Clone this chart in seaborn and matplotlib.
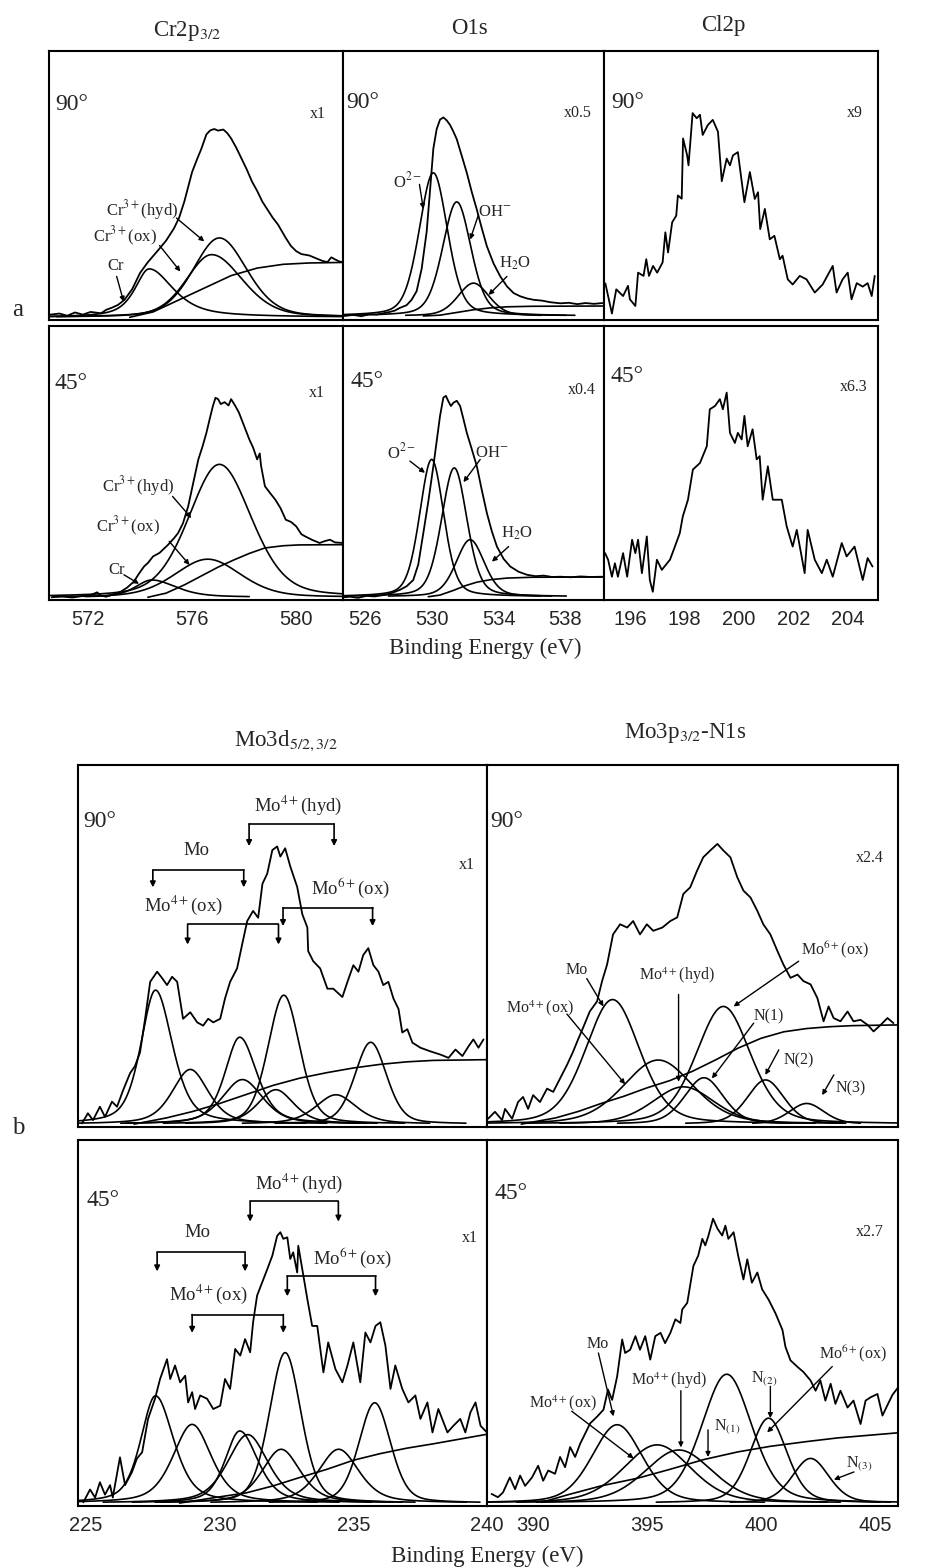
import numpy as np
import matplotlib
matplotlib.use("Agg")
import matplotlib.pyplot as plt
import seaborn as sns

sns.set_theme(style="white")
plt.rcParams['font.family'] = ['Liberation Serif', 'DejaVu Serif']
plt.rcParams['mathtext.fontset'] = 'stix'

# ------------------------------------------------------------------ DATA
# measured spectra: (binding energy eV, intensity in % of panel height)
cr90_meas = [(570.55,2.0),(570.9,2.4),(571.2,1.6),(571.5,2.8),(571.8,2.0),(572.1,3.0),(572.5,2.5),(572.7,3.8),
             (572.9,4.5),(573.15,5.6),(573.4,7.5),(573.7,11.5),(574.0,17.5),(574.3,21.5),(574.7,26),(575.0,29.5),
             (575.3,34),(575.5,38),(575.7,44),(576.0,55),(576.2,60),(576.35,63.5),(576.55,69),(576.7,70.5),
             (576.85,71),(577.0,70.4),(577.2,70.8),(577.35,69.5),(577.5,67.5),(577.7,64),(577.9,60),(578.1,56),
             (578.3,51.5),(578.5,48),(578.7,44),(578.9,41),(579.1,38),(579.3,35.5),(579.6,30.5),(579.8,27.5),
             (580.0,25.6),(580.2,24.5),(580.5,24),(580.75,23),(581.0,22),(581.2,21.5),(581.35,23.3),(581.5,22.5),
             (581.65,21.8),(581.8,21.4)]
cr45_meas = [(570.6,1.0),(571.0,1.3),(571.4,0.9),(571.8,1.5),(572.1,1.8),(572.35,2.8),(572.5,1.6),(572.7,1.2),
             (573.0,2.2),(573.25,3.0),(573.5,4.5),(573.76,6.7),(573.95,9.5),(574.15,12.2),(574.3,13.5),(574.5,15.9),
             (574.75,17.2),(575.07,20.1),(575.3,22.5),(575.46,24.4),(575.65,28),(575.85,34.2),(576.05,43),
             (576.24,51.3),(576.4,56),(576.55,61),(576.7,67),(576.8,70.8),(576.9,73.8),(577.0,73.3),(577.1,71.5),
             (577.25,72.2),(577.4,71),(577.5,73.3),(577.65,71),(577.8,68.4),(578.0,63.5),(578.2,58.6),
             (578.35,55.5),(578.5,51.3),(578.6,53.5),(578.65,49),(578.8,41.5),(579.0,39),(579.2,36.6),(579.4,33.5),
             (579.6,29.3),(579.8,28.5),(580.0,26.9),(580.2,24),(580.35,23.2),(580.6,22),(580.9,20.8),(581.1,21.5),
             (581.3,22),(581.5,21),(581.85,20.8)]
o90_meas = [(524.8,1.5),(525.3,1.9),(525.8,1.4),(526.3,2.2),(526.7,2.0),(527.1,2.5),(527.5,3.0),(527.8,3.5),
            (528.1,4.5),(528.5,5.5),(528.8,7.5),(529.1,10.7),(529.4,19),(529.7,32.8),(529.9,48),(530.1,63.7),
            (530.3,71),(530.5,74.5),(530.7,75.3),(530.9,74.2),(531.1,72.5),(531.3,70),(531.5,67.2),(531.8,61),
            (532.1,54.7),(532.4,47.5),(532.7,41),(533.0,34),(533.3,27.4),(533.7,21),(534.1,16.2),(534.5,12.5),
            (534.9,10),(535.3,8.8),(535.7,8.0),(536.1,7.5),(536.6,7.2),(537.1,6.6),(537.7,6.2),(538.2,6.4),
            (538.7,5.9),(539.2,6.3),(539.7,6.0),(540.2,6.3)]
o45_meas = [(524.8,1.0),(525.1,1.2),(525.6,0.8),(526.1,1.5),(526.6,1.3),(527.1,1.8),(527.6,2.5),(528.1,3.7),
            (528.5,5.0),(528.9,7.3),(529.2,13),(529.5,24.4),(529.8,36),(530.1,48.8),(530.3,58),(530.5,67.2),
            (530.7,73.9),(530.85,74.5),(531.0,72.5),(531.15,70.8),(531.3,72),(531.5,72.7),(531.7,70.8),(531.9,66),
            (532.1,61),(532.4,55),(532.7,48.8),(533.0,40),(533.3,31.7),(533.6,25),(533.9,19.5),(534.3,15),
            (534.7,12.2),(535.2,10.3),(535.7,9.2),(536.2,8.7),(536.7,8.9),(537.2,8.4),(537.7,8.5),(538.3,8.3),
            (538.9,8.6),(539.5,8.4),(540.2,8.5)]
cl90_meas = [(195.1,13.6),(195.34,2.4),(195.5,11.4),(195.75,8.9),(195.93,12.7),(196.0,7.7),(196.2,5.2),(196.3,17.6),
             (196.5,16.4),(196.6,22.6),(196.7,16.4),(196.85,20.1),(197.0,17.6),(197.2,21.4),(197.3,32.6),(197.4,25.1),
             (197.55,36.3),(197.7,38.8),(197.76,46.3),(197.9,45.1),(197.95,67.5),(198.1,61.2),(198.15,57.5),
             (198.3,76.9),(198.45,75),(198.57,76.3),(198.67,68.8),(198.86,72.5),(199.04,74.4),(199.23,70),
             (199.37,51.6),(199.55,60),(199.67,57.5),(199.78,61.2),(199.96,62.4),(200.2,43.8),(200.4,55),
             (200.58,45),(200.7,47.5),(200.78,33.8),(200.95,41.3),(201.13,30),(201.3,31.3),(201.5,22.6),
             (201.6,23.9),(201.79,15.1),(201.97,13.2),(202.23,16.4),(202.48,15.1),(202.78,10.2),(203.07,13.2),
             (203.44,20.1),(203.58,10.2),(203.8,15.1),(203.99,17.6),(204.13,7.7),(204.32,13.7),(204.54,12.4),
             (204.72,13.7),(204.87,8.9),(204.98,16.4)]
cl45_meas = [(195.09,17.1),(195.2,14.7),(195.34,8.5),(195.45,13.4),(195.56,8.5),(195.75,17.1),(195.9,8.5),
             (196.08,22),(196.2,17.1),(196.3,22),(196.44,9.8),(196.62,23.2),(196.73,7.3),(196.84,3),(196.99,14.7),
             (197.17,11),(197.47,14.7),(197.65,19.5),(197.83,24.4),(197.94,30.5),(198.13,36.6),(198.31,47.6),
             (198.57,50),(198.82,56.1),(198.93,69.6),(199.12,70.8),(199.3,73.3),(199.41,69.6),(199.55,75.7),
             (199.67,61),(199.85,57.3),(199.96,61),(200.1,58.6),(200.2,67.2),(200.32,56.1),(200.5,62.3),
             (200.65,51.3),(200.76,52.5),(200.87,36.6),(201.06,48.8),(201.24,36.6),(201.57,36.6),(201.75,26.9),
             (201.97,19.5),(202.12,25.6),(202.41,9.8),(202.52,25.6),(202.78,14.7),(203.04,9.8),(203.22,14.7),
             (203.44,8.5),(203.77,20.8),(203.95,15.9),(204.24,19.5),(204.54,7.3),(204.72,15.3),(204.9,12.2)]
mo3d90_meas = [(224.85,1),(225.07,3.8),(225.26,1.9),(225.52,5.6),(225.71,2.8),(225.97,7),(226.16,5.6),(226.39,10.2),
               (226.65,14.9),(226.83,16.8),(227.02,20.6),(227.21,29.9),(227.4,40.1),(227.66,42.9),(227.85,41.1),
               (228.03,39.2),(228.22,41.5),(228.41,40.1),(228.63,29.9),(228.9,31.7),(229.16,28.9),(229.38,28),
               (229.57,29.9),(229.76,28.9),(230.02,29.9),(230.2,35.5),(230.39,40.1),(230.65,43.8),(230.84,50.4),
               (231.03,56.9),(231.25,59.7),(231.44,57.8),(231.6,67.2),(231.78,70),(231.97,76.5),(232.15,77.5),
               (232.27,74.7),(232.45,77),(232.64,72),(232.9,66.3),(233.09,58.8),(233.28,55.1),(233.31,48.6),
               (233.5,45.8),(233.76,43.8),(234.03,38.2),(234.25,38.2),(234.59,35.9),(234.78,40.1),(235.0,44.7),
               (235.19,42.9),(235.37,47.5),(235.56,49.4),(235.75,44.7),(235.94,42.9),(236.12,39.2),(236.31,40.1),
               (236.5,35.5),(236.69,32.6),(236.83,26.1),(237.02,27),(237.21,23.3),(237.51,21.9),(237.88,20.9),
               (238.26,20),(238.56,19.1),(238.82,21.4),(239.08,19.6),(239.31,22.3),(239.49,24.2),(239.68,21.9),
               (239.87,24.2)]
mo3d45_meas = [(224.9,1),(225.15,4.5),(225.34,2.3),(225.52,6.5),(225.71,3.1),(225.9,5.7),(226.0,2.3),(226.27,13.3),
               (226.46,5.7),(226.72,9.3),(226.9,12.9),(227.1,14.7),(227.32,23.8),(227.58,29.3),(227.77,34.7),
               (228.03,40.1),(228.15,34.7),(228.33,38.4),(228.52,33.8),(228.71,35.6),(228.82,28.3),(228.97,31.1),
               (229.08,26.5),(229.27,30.2),(229.53,29.3),(229.76,26.5),(230.02,27.4),(230.2,34.7),(230.39,32),
               (230.58,42.9),(230.77,41.1),(230.95,45.6),(231.14,42),(231.25,50.2),(231.4,57.5),(231.59,61.1),
               (231.78,64.7),(231.97,68.4),(232.15,73.8),(232.27,74.8),(232.38,73),(232.53,73.4),(232.64,67.5),
               (232.75,69.3),(232.9,63.8),(232.94,71.1),(233.09,64.7),(233.28,56.5),(233.46,49.2),(233.65,49.2),
               (233.88,36.5),(234.06,44.7),(234.33,37.4),(234.59,33.8),(234.78,38.4),(235.0,44.7),(235.26,33.8),
               (235.45,47.4),(235.64,44.7),(235.83,49.2),(236.01,50.2),(236.2,43.8),(236.39,32),(236.57,38.4),
               (236.83,32),(237.06,28.3),(237.32,30.2),(237.51,23.8),(237.77,28.3),(237.96,20.1),(238.18,26.5),
               (238.52,20.1),(238.74,21.9),(239.0,23.8),(239.19,20.1),(239.38,25.6),(239.57,28.3),(239.76,21.9),
               (240.0,20.1)]
mo3p90_meas = [(388.05,2.3),(388.35,4.2),(388.66,1.9),(388.79,5),(389.1,2.3),(389.36,6.9),(389.58,8.3),(389.8,5),
               (390.02,8.8),(390.32,6.9),(390.63,10.6),(390.9,9.7),(391.2,13.4),(391.5,17.1),(391.77,20.8),
               (391.95,23.6),(392.2,27.3),(392.5,31.9),(392.82,34.7),(393.04,40.3),(393.26,44.9),(393.52,53.2),
               (393.83,56),(394.14,55.1),(394.4,56.9),(394.7,53.2),(395.0,56),(395.28,54.2),(395.68,55.1),
               (396.03,56.9),(396.33,57.9),(396.6,64.4),(396.9,66.2),(397.2,70.8),(397.47,74.5),(397.78,76.4),
               (398.09,78.2),(398.35,76.4),(398.66,74.5),(398.96,69),(399.23,65.3),(399.54,63.4),(399.84,59.7),
               (400.1,56),(400.41,53.2),(400.72,48.6),(400.98,44.9),(401.29,41.2),(401.6,42.1),(401.86,40.3),
               (402.17,39.4),(402.47,35.6),(402.74,29.2),(402.96,33.3),(403.18,30.1),(403.48,29.2),(403.79,31.9),
               (404.05,29.2),(404.36,29.6),(404.67,28.2),(404.93,26.4),(405.24,28.2),(405.54,30.1),(405.8,28.7)]
mo3p45_meas = [(388.2,3.3),(388.48,2.4),(388.7,3.7),(389.0,7.8),(389.23,4.6),(389.45,8.3),(389.67,5.5),(389.97,7.8),
               (390.24,11),(390.46,6.9),(390.68,9.7),(390.98,8.8),(391.2,13.4),(391.42,10.6),(391.64,16.1),
               (391.86,13.4),(392.08,17),(392.3,19.8),(392.52,22.6),(392.82,24.4),(393.1,26.3),(393.3,31.8),
               (393.48,29),(393.7,35.4),(393.92,45.5),(394.05,41.8),(394.27,42.7),(394.5,46.4),(394.7,42.7),
               (394.93,46.4),(395.15,40),(395.37,46.4),(395.6,47.3),(395.8,44.5),(396.03,47.3),(396.25,51),
               (396.47,50),(396.55,53.7),(396.77,55.5),(397.04,65.6),(397.25,68.4),(397.43,73),(397.56,71.2),
               (397.7,73.9),(397.9,78.5),(398.1,75.7),(398.3,73.9),(398.44,76.6),(398.57,73),(398.8,74.8),
               (399.0,68.4),(399.23,61.9),(399.4,67.4),(399.6,61),(399.84,63.8),(400.05,59.2),(400.33,56.4),
               (400.63,52.7),(400.94,48.1),(401.07,43.5),(401.29,39.8),(401.6,38),(401.86,36.6),(402.17,34.3),
               (402.39,31.5),(402.6,34.3),(402.82,28.8),(403.05,33.4),(403.26,27.9),(403.48,31.5),(403.79,26.9),
               (404.05,28.8),(404.36,22.4),(404.58,28.8),(404.8,29.7),(405.1,30.6),(405.32,24.7),(405.54,27.6),
               (405.76,30.4),(405.98,32.2)]

# fitted components: (centre eV, peak height %, fwhm low-BE side, fwhm high-BE side, lorentz fraction)
cr90_peaks = [(574.35, 19.0, 1.3, 2.2, 0.7), (576.75, 24.3, 2.3, 2.8, 0.3), (577.05, 30.5, 2.4, 2.5, 0.3)]
cr45_peaks = [(574.45, 7.3, 1.5, 2.2, 0.5), (576.6, 14.9, 3.0, 3.0, 0.3), (577.05, 49.5, 2.8, 2.9, 0.3)]
o90_peaks = [(530.1, 54.7, 2.0, 2.0, 0.3), (531.5, 43.9, 2.0, 2.0, 0.3), (532.5, 13.7, 2.2, 2.2, 0.3)]
o45_peaks = [(530.0, 51.3, 1.7, 1.7, 0.3), (531.35, 48.2, 1.8, 1.8, 0.3), (532.3, 22.0, 2.0, 2.0, 0.3)]
mo3d90_peaks = [(227.6, 37.8, 1.3, 1.5, 0.5), (230.75, 24.8, 1.3, 1.5, 0.5), (228.9, 15.9, 1.6, 1.6, 0.5),
                (232.1, 10.3, 1.6, 1.6, 0.5), (230.85, 13.1, 1.8, 1.8, 0.5), (234.35, 8.9, 1.8, 1.8, 0.5),
                (232.4, 36.4, 1.4, 1.4, 0.3), (235.65, 23.4, 1.4, 1.4, 0.3)]
mo3d45_peaks = [(227.6, 30.1, 1.3, 1.6, 0.5), (230.75, 20.5, 1.3, 1.6, 0.5), (228.97, 22.3, 1.7, 1.7, 0.5),
                (232.3, 15.5, 1.7, 1.7, 0.5), (231.05, 19.5, 1.8, 1.8, 0.5), (234.45, 15.5, 1.8, 1.8, 0.5),
                (232.45, 41.9, 1.4, 1.4, 0.3), (235.8, 28.2, 1.4, 1.4, 0.3)]
mo3p90_peaks = [(393.5, 35.2, 2.8, 2.8, 0.3), (395.5, 18.5, 3.6, 3.6, 0.3), (396.6, 11.1, 3.2, 3.2, 0.3),
                (397.5, 13.6, 2.0, 2.0, 0.3), (398.35, 33.3, 2.8, 2.8, 0.3), (400.2, 13.0, 1.9, 1.9, 0.3),
                (402.0, 6.5, 1.8, 1.8, 0.3)]
mo3p45_peaks = [(393.7, 22.2, 2.6, 2.6, 0.3), (395.45, 16.7, 3.5, 3.5, 0.3), (396.4, 15.3, 3.5, 3.5, 0.3),
                (398.5, 36.0, 2.6, 2.6, 0.3), (400.33, 24.0, 1.9, 1.9, 0.3), (402.17, 13.0, 1.9, 1.9, 0.3)]

# backgrounds (eV, %)
cr90_bg = [(573.6,1),(574.5,3),(575.5,7.5),(576.5,12),(577.5,16.5),(578.5,19.3),(579.5,20.7),(580.5,21.2),(581.8,21.4)]
cr45_bg = [(574.3,1),(575.0,2.5),(575.7,5.5),(576.3,8.5),(577.0,12),(577.6,14.6),(578.2,17),(578.8,19),
           (579.5,19.8),(580.1,20.1),(581.8,20.2)]
o90_bg = [(529.5,1.5),(530.5,1.8),(531.5,2.8),(532.5,3.8),(533.5,4.5),(534.5,4.9),(536.0,5.1),(540.3,5.2)]
o45_bg = [(529.8,1.2),(530.5,1.8),(531.3,3.5),(532.0,5.2),(532.7,6.5),(533.5,7.4),(534.5,8.0),(536.0,8.3),(540.3,8.4)]
mo3d90_bg = [(226.8,0.8),(228,2.5),(229,4.3),(230,6.5),(231,9),(232,11.5),(233,13.5),(234,15),(235,16.3),
             (236,17.3),(237,18),(238,18.4),(240,18.6)]
mo3d45_bg = [(228.5,0.8),(230,2.5),(231,3.6),(232,5.5),(233,7.8),(234,10),(235,12.5),(236,14.3),(237,15.8),
             (238,17),(239,18.3),(240,19.6)]
mo3p90_bg = [(389.5,0.8),(391,2.5),(392,4.3),(393,6.5),(394,8.5),(395,10.8),(396,12.8),(397,15.4),(398,18.5),
             (399,21.8),(400,24.5),(401,26.3),(402,27.2),(403,27.7),(404,28),(406,28.2)]
mo3p45_bg = [(390.4,1),(391.5,3),(393,5.5),(394.6,7.6),(396,10),(397.5,12.7),(399,14.8),(400.4,16.3),(402,17.6),
             (403.35,18.6),(406,20)]

# axis ranges and ticks
cr_range, cr_ticks = (570.5, 581.8), [572, 576, 580]
o_range, o_ticks = (524.7, 540.3), [526, 530, 534, 538]
cl_range, cl_ticks = (195.05, 205.1), [196, 198, 200, 202, 204]
mo3d_range, mo3d_ticks = (224.7, 240.0), [225, 230, 235, 240]
mo3p_range, mo3p_ticks = (388.0, 406.0), [390, 395, 400, 405]

# annotations: (text, x, y, arrow tail x, tail y, tip x, tip y)
cr90_labels = [("Cr", 573.05, 19.9, 573.1, 16.2, 573.37, 6.8),
               (r"Cr$^{3+}$(ox)", 573.4, 31.0, 574.75, 27.7, 575.55, 18.0),
               (r"Cr$^{3+}$(hyd)", 574.07, 41.0, 575.4, 37.9, 576.47, 29.2)]
cr45_labels = [("Cr", 573.09, 11.0, 573.38, 9.2, 573.96, 5.9),
               (r"Cr$^{3+}$(ox)", 573.55, 26.9, 575.12, 21.4, 575.9, 12.8),
               (r"Cr$^{3+}$(hyd)", 573.94, 41.5, 575.25, 37.8, 575.97, 29.9)]
o90_labels = [(r"O$^{2-}$", 528.55, 51.6, 529.27, 50.4, 529.5, 41.3),
              (r"OH$^{-}$", 533.8, 40.3, 532.8, 39.2, 532.3, 29.9),
              (r"H$_2$O", 535.0, 21.2, 534.5, 16.2, 533.4, 9.3)]
o45_labels = [(r"O$^{2-}$", 528.2, 53.7, 528.7, 50.7, 529.6, 46.4),
              (r"OH$^{-}$", 533.6, 53.7, 532.9, 51.3, 531.9, 43.0),
              (r"H$_2$O", 535.1, 24.4, 534.6, 19.5, 533.6, 14.0)]
mo3p90_labels = [("Mo", 391.93, 43.5, 392.37, 41.0, 393.1, 33.3),
                 (r"Mo$^{4+}$(ox)", 390.32, 32.9, 391.5, 31.2, 394.05, 11.8),
                 (r"Mo$^{4+}$(hyd)", 396.32, 41.7, 396.39, 36.6, 396.39, 12.5),
                 (r"Mo$^{6+}$(ox)", 403.22, 49.1, 401.65, 45.8, 398.8, 33.3),
                 ("N(1)", 400.34, 30.6, 399.68, 28.7, 397.85, 13.4),
                 ("N(2)", 401.65, 18.5, 400.78, 21.3, 400.19, 14.4),
                 ("N(3)", 403.92, 10.6, 403.19, 14.4, 402.68, 8.8)]
mo3p45_labels = [("Mo", 392.84, 44.3, 392.88, 41.8, 393.54, 24.5),
                 (r"Mo$^{4+}$(ox)", 391.3, 28.2, 391.71, 25.9, 394.42, 13.0),
                 (r"Mo$^{4+}$(hyd)", 395.98, 34.2, 396.49, 31.5, 396.49, 16.0),
                 (r"N$_{(1)}$", 398.51, 21.7, 397.68, 20.8, 397.68, 13.4),
                 (r"N$_{(2)}$", 400.12, 34.8, 400.41, 32.7, 400.41, 24.0),
                 (r"Mo$^{6+}$(ox)", 404.02, 41.5, 403.12, 38.1, 400.27, 20.1),
                 (r"N$_{(3)}$", 404.32, 11.6, 404.07, 9.3, 403.19, 7.2)]
# doublet brackets: (text, text x, text y, left eV, right eV, bar y, tip y)
mo3d90_brackets = [("Mo", 229.14, 76.5, 227.5, 230.9, 71.0, 66.2),
                   (r"Mo$^{4+}$(ox)", 228.65, 61.2, 228.8, 232.2, 56.0, 50.4),
                   (r"Mo$^{4+}$(hyd)", 232.92, 89.0, 231.1, 234.28, 83.7, 77.6),
                   (r"Mo$^{6+}$(ox)", 234.91, 66.2, 232.37, 235.72, 60.6, 55.5)]
mo3d45_brackets = [("Mo", 229.17, 74.6, 227.66, 230.95, 69.3, 64.1),
                   (r"Mo$^{4+}$(ox)", 229.58, 57.8, 228.97, 232.38, 52.3, 47.3),
                   (r"Mo$^{4+}$(hyd)", 232.98, 88.2, 231.14, 234.44, 83.2, 77.7),
                   (r"Mo$^{6+}$(ox)", 234.97, 67.8, 232.53, 235.83, 62.8, 57.3)]

# ------------------------------------------------------------------ LAYOUT
W, H = 929, 1568
fig = plt.figure(figsize=(W / 100, H / 100), dpi=100)
fig.patch.set_facecolor("white")


def add_ax(x1, y1, x2, y2):
    return fig.add_axes([x1 / W, 1 - y2 / H, (x2 - x1) / W, (y2 - y1) / H])


def ftext(x, y, s, **kw):
    fig.text(x / W, 1 - y / H, s, **kw)


def profile(E, c, peak, wl, wr, eta, base):
    w = np.where(E < c, wl, wr)
    u = (E - c) / w
    g = np.exp(-4 * np.log(2) * u ** 2)
    lor = 1 / (1 + 4 * u ** 2)
    return (peak - base) * (eta * lor + (1 - eta) * g)


def panel(ax, xr, ticks, meas, peaks=None, bg=None, base=1.0, show_ticks=False,
          angle="90°", angle_pos=(0.02, 0.8), factor="x1", factor_pos=(0.91, 0.77)):
    E, I = zip(*meas)
    sns.lineplot(x=list(E), y=list(I), ax=ax, color="black", linewidth=1.3,
                 estimator=None, sort=False, legend=False)
    if peaks:
        grid = np.linspace(xr[0], xr[1], 700)
        for (c, pk, wl, wr, eta) in peaks:
            amp = profile(grid, c, pk, wl, wr, eta, base)
            m = amp > 0.25
            sns.lineplot(x=grid[m], y=amp[m] + base, ax=ax, color="black", linewidth=1.2,
                         estimator=None, sort=False, legend=False)
    if bg:
        bE, bI = zip(*bg)
        sns.lineplot(x=list(bE), y=list(bI), ax=ax, color="black", linewidth=1.2,
                     estimator=None, sort=False, legend=False)
    ax.set_xlim(*xr)
    ax.set_ylim(0, 100)
    ax.set_yticks([])
    ax.set_ylabel("")
    ax.set_xlabel("")
    ax.set_xticks(ticks)
    if show_ticks:
        ax.set_xticklabels([str(t) for t in ticks], fontfamily="Liberation Sans", fontsize=14.5)
    else:
        ax.set_xticklabels([])
    ax.tick_params(axis="x", length=0, pad=7)
    for sp in ax.spines.values():
        sp.set_visible(True)
        sp.set_color("black")
        sp.set_linewidth(1.5)
    ax.set_facecolor("white")
    ax.text(angle_pos[0], angle_pos[1], angle, transform=ax.transAxes, fontsize=17,
            ha="left", va="center")
    ax.text(factor_pos[0], factor_pos[1], factor, transform=ax.transAxes, fontsize=11.5,
            ha="center", va="center")


def labels(ax, items, fs):
    for (t, x, y, x0, y0, x1, y1) in items:
        ax.text(x, y, t, fontsize=fs, ha="center", va="center")
        ax.annotate("", xy=(x1, y1), xytext=(x0, y0),
                    arrowprops=dict(arrowstyle="-|>", lw=1.0, color="black",
                                    mutation_scale=7, shrinkA=0, shrinkB=0))


def brackets(ax, items, fs):
    for (t, x, y, xl, xr, yb, yt) in items:
        ax.text(x, y, t, fontsize=fs, ha="center", va="center")
        ax.plot([xl, xr], [yb, yb], color="black", lw=1.2)
        for xx in (xl, xr):
            ax.annotate("", xy=(xx, yt), xytext=(xx, yb),
                        arrowprops=dict(arrowstyle="-|>", lw=1.2, color="black",
                                        mutation_scale=8, shrinkA=0, shrinkB=0))


# ---- section a
ax = add_ax(49, 51, 343, 320)
panel(ax, cr_range, cr_ticks, cr90_meas, cr90_peaks, cr90_bg, 1.0, False, "90°", (0.02, 0.80), "x1", (0.915, 0.765))
labels(ax, cr90_labels, 12)
ax = add_ax(343, 51, 604, 320)
panel(ax, o_range, o_ticks, o90_meas, o90_peaks, o90_bg, 1.5, False, "90°", (0.014, 0.81), "x0.5", (0.90, 0.77))
labels(ax, o90_labels, 12)
ax = add_ax(604, 51, 878, 320)
panel(ax, cl_range, cl_ticks, cl90_meas, None, None, 1.0, False, "90°", (0.028, 0.81), "x9", (0.916, 0.77))

ax = add_ax(49, 326, 343, 600)
panel(ax, cr_range, cr_ticks, cr45_meas, cr45_peaks, cr45_bg, 1.0, True, "45°", (0.02, 0.79), "x1", (0.91, 0.755))
labels(ax, cr45_labels, 12)
ax = add_ax(343, 326, 604, 600)
panel(ax, o_range, o_ticks, o45_meas, o45_peaks, o45_bg, 1.2, True, "45°", (0.027, 0.797), "x0.4", (0.915, 0.766))
labels(ax, o45_labels, 12)
ax = add_ax(604, 326, 878, 600)
panel(ax, cl_range, cl_ticks, cl45_meas, None, None, 1.0, True, "45°", (0.022, 0.815), "x6.3", (0.91, 0.776))

# ---- section b
ax = add_ax(78, 765, 487, 1127)
panel(ax, mo3d_range, mo3d_ticks, mo3d90_meas, mo3d90_peaks, mo3d90_bg, 0.8, False, "90°", (0.013, 0.843), "x1", (0.95, 0.724))
brackets(ax, mo3d90_brackets, 13.5)
ax = add_ax(487, 765, 898, 1127)
panel(ax, mo3p_range, mo3p_ticks, mo3p90_meas, mo3p90_peaks, mo3p90_bg, 0.8, False, "90°", (0.008, 0.843), "x2.4", (0.932, 0.742))
labels(ax, mo3p90_labels, 11.5)

ax = add_ax(78, 1140, 487, 1506)
panel(ax, mo3d_range, mo3d_ticks, mo3d45_meas, mo3d45_peaks, mo3d45_bg, 0.8, True, "45°", (0.021, 0.836), "x1", (0.958, 0.731))
brackets(ax, mo3d45_brackets, 13.5)
ax = add_ax(487, 1140, 898, 1506)
panel(ax, mo3p_range, mo3p_ticks, mo3p45_meas, mo3p45_peaks, mo3p45_bg, 0.8, True, "45°", (0.019, 0.854), "x2.7", (0.932, 0.749))
labels(ax, mo3p45_labels, 11.5)

# ---- titles and figure texts
ftext(187, 31, r"Cr2p$_{3/2}$", fontsize=16.5, ha="center", va="center")
ftext(470, 29, "O1s", fontsize=16.5, ha="center", va="center")
ftext(723, 26, "Cl2p", fontsize=16.5, ha="center", va="center")
ftext(286, 741, r"Mo3d$_{5/2,3/2}$", fontsize=16.5, ha="center", va="center")
ftext(685, 733, r"Mo3p$_{3/2}$-N1s", fontsize=16.5, ha="center", va="center")
ftext(18, 310, "a", fontsize=18, ha="center", va="center")
ftext(18, 1128, "b", fontsize=18, ha="center", va="center")
ftext(485, 648, "Binding Energy (eV)", fontsize=16.5, ha="center", va="center")
ftext(487, 1556, "Binding Energy (eV)", fontsize=16.5, ha="center", va="center")

fig.savefig("out.png", dpi=100, facecolor="white")
